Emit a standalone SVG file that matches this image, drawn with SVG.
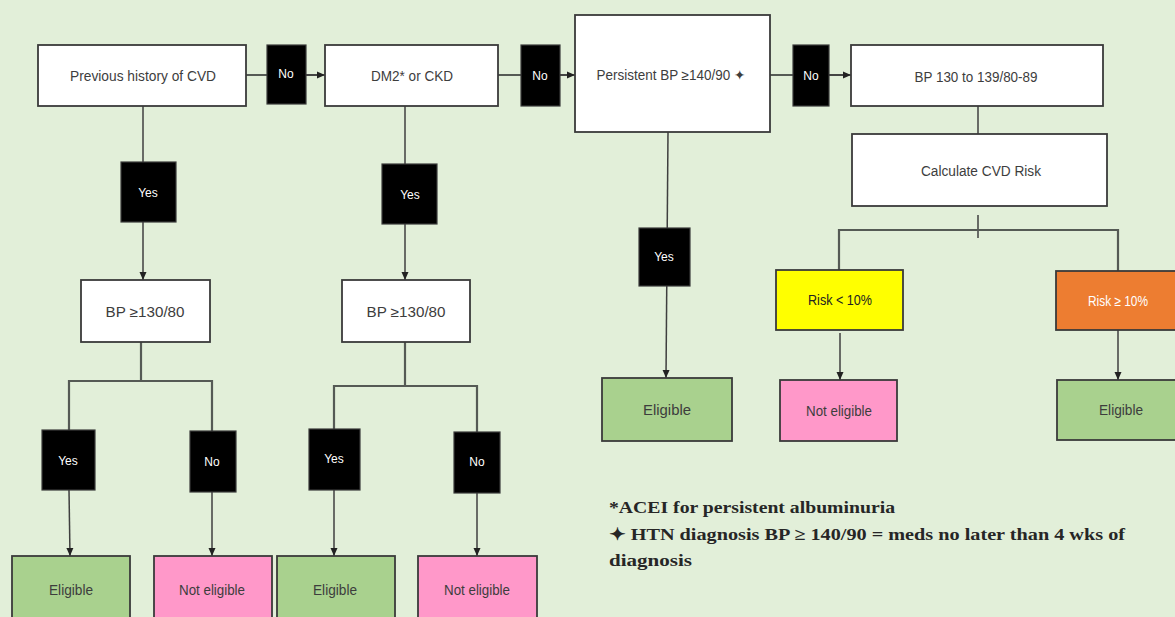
<svg xmlns="http://www.w3.org/2000/svg" width="1175" height="617" viewBox="0 0 1175 617">
  <style>
    .box { stroke: #3a3a3a; stroke-width: 1.8; }
    .white { fill: #ffffff; }
    .tag { fill: #000000; stroke: #3a3a3a; stroke-width: 1.2; }
    .green { fill: #a9d18e; }
    .pink { fill: #ff98c9; }
    .yellow { fill: #ffff00; }
    .orange { fill: #ed7d31; }
    .lbl { font-family: "Liberation Sans Narrow", "Liberation Sans", Arial, sans-serif; font-size: 14px; fill: #3d3d3d; text-anchor: middle; dominant-baseline: central; }
    .tagtxt { font-family: "Liberation Sans Narrow", "Liberation Sans", Arial, sans-serif; font-size: 12px; fill: #ffffff; text-anchor: middle; dominant-baseline: central; }
    .conn { stroke: #3f3f3f; stroke-width: 1.5; fill: none; }
    .thick { stroke: #555a55; stroke-width: 2.2; fill: none; }
    .note { font-family: "Liberation Serif", "DejaVu Serif", serif; font-weight: bold; font-size: 17px; fill: #262626; }
  </style>
  <defs>
    <marker id="arrow" viewBox="0 0 8 8" refX="8" refY="4" markerWidth="8" markerHeight="8" markerUnits="userSpaceOnUse" orient="auto">
      <path d="M0,0.5 L8,4 L0,7.5 Z" fill="#222222"/>
    </marker>
  </defs>

  <!-- page background -->
  <rect x="0" y="0" width="1175" height="617" fill="#e2efd9"/>

  <!-- connectors -->
  <g id="connectors">
    <line class="thick" x1="246" y1="75" x2="318" y2="75"/>
    <line class="conn" x1="306" y1="75" x2="325" y2="75" marker-end="url(#arrow)"/>
    <line class="thick" x1="498" y1="75" x2="568" y2="75"/>
    <line class="conn" x1="560" y1="75" x2="575" y2="75" marker-end="url(#arrow)"/>
    <line class="thick" x1="770" y1="75" x2="844" y2="75"/>
    <line class="conn" x1="829" y1="75" x2="851" y2="75" marker-end="url(#arrow)"/>

    <!-- column 1 -->
    <line class="conn" x1="143" y1="106" x2="143" y2="280" marker-end="url(#arrow)"/>
    <polyline class="thick" points="141,342 141,381"/>
    <polyline class="thick" points="69,430 69,381 212,381 212,431"/>
    <line class="conn" x1="69" y1="490" x2="70" y2="556" marker-end="url(#arrow)"/>
    <line class="conn" x1="212" y1="492" x2="212" y2="556" marker-end="url(#arrow)"/>

    <!-- column 2 -->
    <line class="conn" x1="405" y1="106" x2="405" y2="280" marker-end="url(#arrow)"/>
    <polyline class="thick" points="405,342 405,386"/>
    <polyline class="thick" points="334,429 334,386 477,386 477,432"/>
    <line class="conn" x1="334" y1="490" x2="334" y2="556" marker-end="url(#arrow)"/>
    <line class="conn" x1="477" y1="493" x2="477" y2="556" marker-end="url(#arrow)"/>

    <!-- persistent BP branch -->
    <line class="conn" x1="668" y1="132" x2="666" y2="378" marker-end="url(#arrow)"/>

    <!-- CVD risk branch -->
    <line class="conn" x1="978" y1="106" x2="978" y2="134"/>
    <line class="conn" x1="978" y1="215" x2="978" y2="238"/>
    <polyline class="thick" points="839,270 839,230 1118,230 1118,271"/>
    <line class="conn" x1="840" y1="333" x2="840" y2="380" marker-end="url(#arrow)"/>
    <line class="conn" x1="1118" y1="330" x2="1118" y2="380" marker-end="url(#arrow)"/>
  </g>

  <!-- decision boxes -->
  <g id="n-history">
    <rect class="box white" x="38" y="45" width="208" height="61"/>
    <text class="lbl" x="143" y="76" textLength="146" lengthAdjust="spacingAndGlyphs">Previous history of CVD</text>
  </g>
  <g id="n-dm2">
    <rect class="box white" x="325" y="45" width="173" height="61"/>
    <text class="lbl" x="412" y="76" textLength="82" lengthAdjust="spacingAndGlyphs">DM2* or CKD</text>
  </g>
  <g id="n-persistent">
    <rect class="box white" x="575" y="15" width="195" height="117"/>
    <text class="lbl" x="671" y="75" textLength="149" lengthAdjust="spacingAndGlyphs">Persistent BP ≥140/90 ✦</text>
  </g>
  <g id="n-bp130">
    <rect class="box white" x="851" y="45" width="252" height="61"/>
    <text class="lbl" x="976" y="77" textLength="123" lengthAdjust="spacingAndGlyphs">BP 130 to 139/80-89</text>
  </g>
  <g id="n-calc">
    <rect class="box white" x="852" y="134" width="255" height="72"/>
    <text class="lbl" x="981" y="171" textLength="120" lengthAdjust="spacingAndGlyphs">Calculate CVD Risk</text>
  </g>
  <g id="n-bp1">
    <rect class="box white" x="81" y="280" width="129" height="62"/>
    <text class="lbl" x="145" y="312" textLength="79" lengthAdjust="spacingAndGlyphs">BP ≥130/80</text>
  </g>
  <g id="n-bp2">
    <rect class="box white" x="342" y="280" width="128" height="62"/>
    <text class="lbl" x="406" y="312" textLength="79" lengthAdjust="spacingAndGlyphs">BP ≥130/80</text>
  </g>
  <g id="n-risklow">
    <rect class="box yellow" x="776" y="270" width="127" height="60"/>
    <text class="lbl" x="840" y="300" textLength="64" lengthAdjust="spacingAndGlyphs" style="fill:#222">Risk &lt; 10%</text>
  </g>
  <g id="n-riskhigh">
    <rect class="box orange" x="1056" y="271" width="122" height="59"/>
    <text class="lbl" x="1118" y="301" textLength="60" lengthAdjust="spacingAndGlyphs" style="fill:#ffffff">Risk ≥ 10%</text>
  </g>

  <!-- outcome boxes -->
  <g id="n-elig1">
    <rect class="box green" x="12" y="556" width="118" height="65"/>
    <text class="lbl" x="71" y="590" textLength="44" lengthAdjust="spacingAndGlyphs">Eligible</text>
  </g>
  <g id="n-notelig1">
    <rect class="box pink" x="154" y="556" width="118" height="65"/>
    <text class="lbl" x="212" y="590" textLength="66" lengthAdjust="spacingAndGlyphs">Not eligible</text>
  </g>
  <g id="n-elig2">
    <rect class="box green" x="277" y="556" width="118" height="65"/>
    <text class="lbl" x="335" y="590" textLength="44" lengthAdjust="spacingAndGlyphs">Eligible</text>
  </g>
  <g id="n-notelig2">
    <rect class="box pink" x="418" y="556" width="119" height="65"/>
    <text class="lbl" x="477" y="590" textLength="66" lengthAdjust="spacingAndGlyphs">Not eligible</text>
  </g>
  <g id="n-elig3">
    <rect class="box green" x="602" y="378" width="130" height="63"/>
    <text class="lbl" x="667" y="410" textLength="48" lengthAdjust="spacingAndGlyphs">Eligible</text>
  </g>
  <g id="n-notelig3">
    <rect class="box pink" x="780" y="380" width="117" height="61"/>
    <text class="lbl" x="839" y="411" textLength="66" lengthAdjust="spacingAndGlyphs">Not eligible</text>
  </g>
  <g id="n-elig4">
    <rect class="box green" x="1057" y="380" width="121" height="60"/>
    <text class="lbl" x="1121" y="410" textLength="44" lengthAdjust="spacingAndGlyphs">Eligible</text>
  </g>

  <!-- yes / no tags -->
  <g id="t-no1">
    <rect class="tag" x="267" y="45" width="39" height="59"/>
    <text class="tagtxt" x="286" y="74">No</text>
  </g>
  <g id="t-no2">
    <rect class="tag" x="521" y="45" width="39" height="61"/>
    <text class="tagtxt" x="540" y="76">No</text>
  </g>
  <g id="t-no3">
    <rect class="tag" x="793" y="45" width="36" height="61"/>
    <text class="tagtxt" x="811" y="76">No</text>
  </g>
  <g id="t-yes1">
    <rect class="tag" x="121" y="162" width="55" height="60"/>
    <text class="tagtxt" x="148" y="193">Yes</text>
  </g>
  <g id="t-yes2">
    <rect class="tag" x="382" y="164" width="55" height="60"/>
    <text class="tagtxt" x="410" y="195">Yes</text>
  </g>
  <g id="t-yes3">
    <rect class="tag" x="639" y="228" width="51" height="58"/>
    <text class="tagtxt" x="664" y="257">Yes</text>
  </g>
  <g id="t-yes4">
    <rect class="tag" x="42" y="430" width="53" height="60"/>
    <text class="tagtxt" x="68" y="461">Yes</text>
  </g>
  <g id="t-no4">
    <rect class="tag" x="190" y="431" width="46" height="61"/>
    <text class="tagtxt" x="212" y="462">No</text>
  </g>
  <g id="t-yes5">
    <rect class="tag" x="309" y="429" width="51" height="61"/>
    <text class="tagtxt" x="334" y="459">Yes</text>
  </g>
  <g id="t-no5">
    <rect class="tag" x="454" y="432" width="46" height="61"/>
    <text class="tagtxt" x="477" y="462">No</text>
  </g>

  <!-- footnotes -->
  <g id="notes">
    <text class="note" x="609" y="513" textLength="286" lengthAdjust="spacingAndGlyphs">*ACEI for persistent albuminuria</text>
    <text class="note" x="609" y="540" textLength="516" lengthAdjust="spacingAndGlyphs">✦ HTN diagnosis  BP ≥ 140/90 = meds no later than 4 wks of</text>
    <text class="note" x="609" y="566" textLength="83" lengthAdjust="spacingAndGlyphs">diagnosis</text>
  </g>
</svg>
